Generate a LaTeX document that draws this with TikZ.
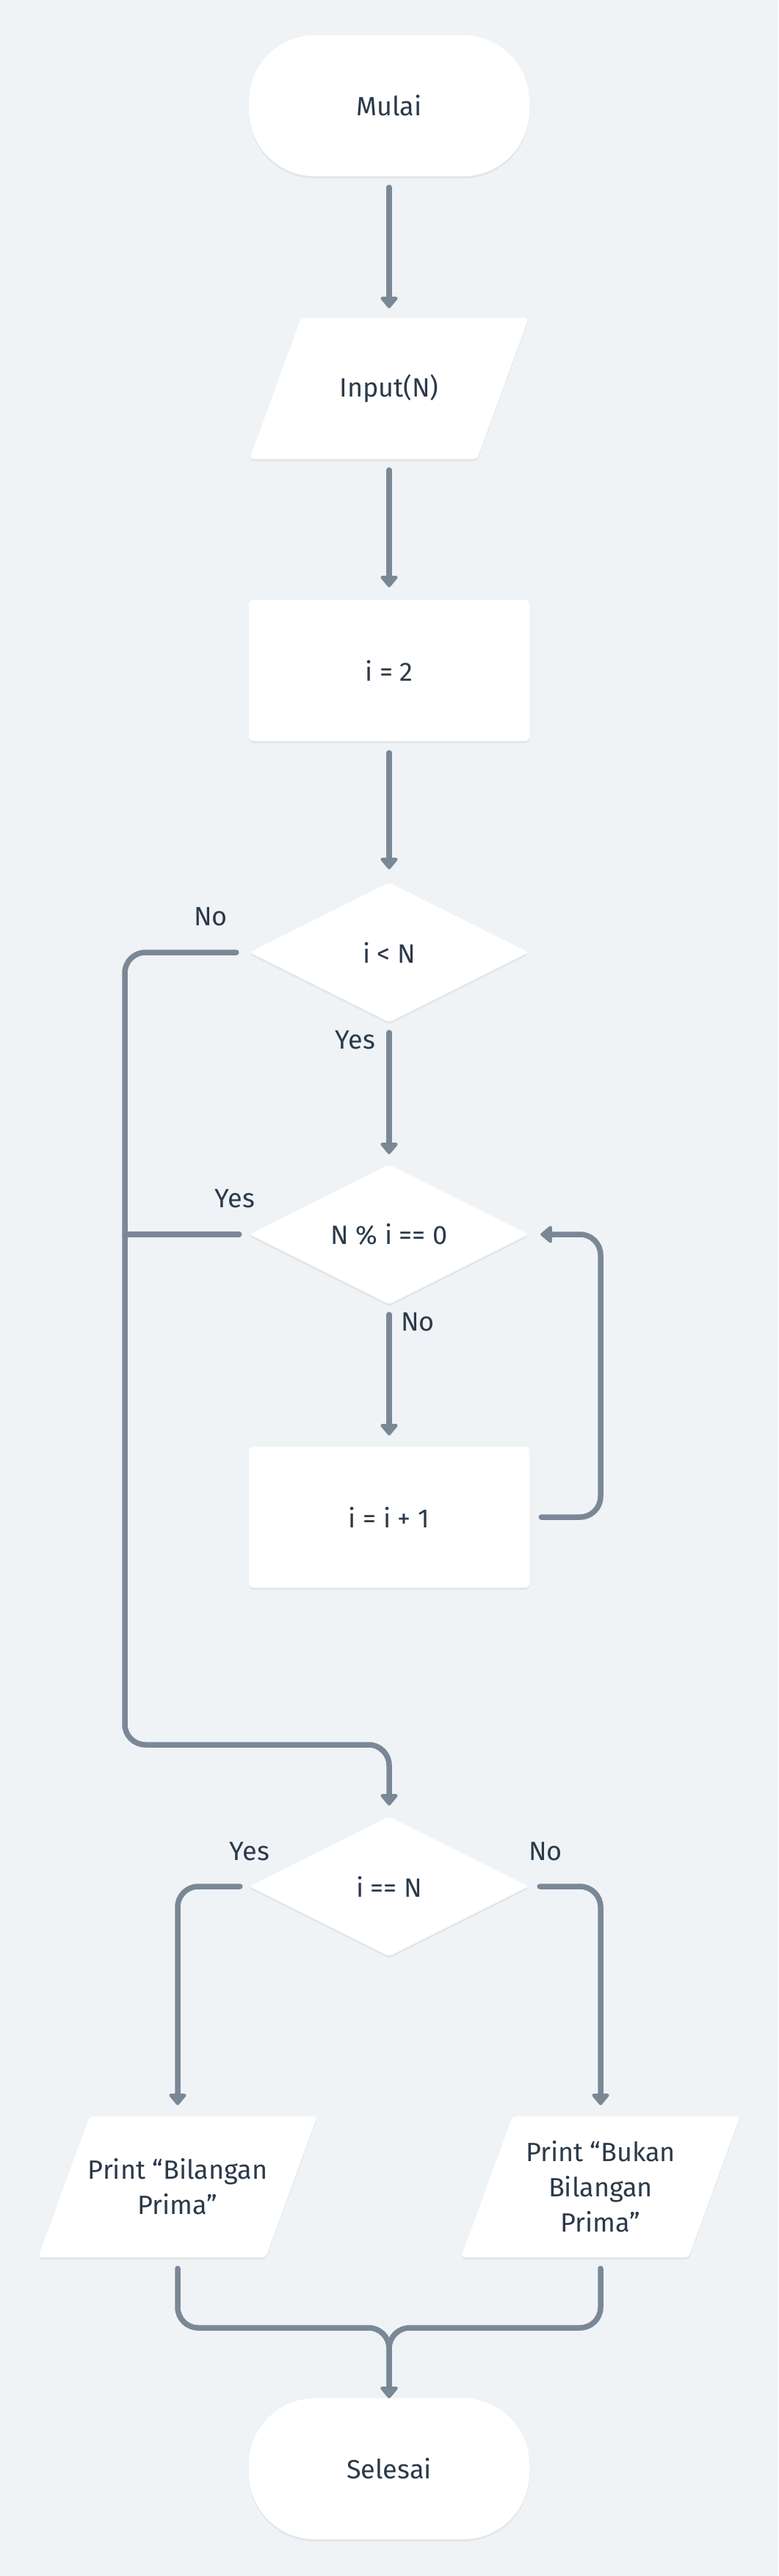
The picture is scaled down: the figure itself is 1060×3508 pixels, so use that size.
\documentclass[tikz,border=0pt]{standalone}
\usepackage{fontspec}
\setmainfont{Fira Sans}
\usetikzlibrary{arrows.meta,shapes.geometric,shadows}
\definecolor{bgc}{HTML}{EFF3F6}
\definecolor{linec}{HTML}{7A8896}
\definecolor{txtc}{HTML}{2B3A4A}
\newcommand\iopara[2]{%
  \fill[white,rounded corners=5pt,softshadow]
    (#1+35-155,#2-96) -- (#1+35+155,#2-96) -- (#1-35+155,#2+96) -- (#1-35-155,#2+96) -- cycle;}
\begin{document}
\begin{tikzpicture}[x=1pt,y=-1pt,
  every node/.style={font=\fontsize{36}{48}\selectfont, text=txtc},
  softshadow/.style={drop shadow={shadow xshift=0pt,shadow yshift=-3pt,opacity=0.05,fill=black}},
  terminal/.style={rectangle, rounded corners=90pt, fill=white, softshadow, minimum width=382pt, minimum height=192pt, inner sep=0pt},
  process/.style={rectangle, rounded corners=6pt, fill=white, softshadow, minimum width=382pt, minimum height=192pt, inner sep=0pt},
  decision/.style={diamond, aspect=2, rounded corners=4pt, fill=white, softshadow, minimum width=380pt, minimum height=190pt, inner sep=0pt},
  iotext/.style={rectangle, minimum width=310pt, minimum height=192pt, inner sep=0pt, align=center},
  lbl/.style={inner sep=0pt},
  conn/.style={draw=linec, line width=7.5pt, line cap=round, line join=round, rounded corners=28pt},
  arr/.style={conn, -{Triangle[width=27pt,length=17pt,round]}}
]
\fill[bgc] (0,0) rectangle (1060,3508);
\useasboundingbox (0,0) rectangle (1060,3508);

% nodes
\node[terminal] (mulai) at (530,144) {Mulai};
\iopara{530}{529}
\node[iotext] (input) at (530,529) {Input(N)};
\node[process] (i2) at (530,913) {i = 2};
\node[decision] (c1) at (530,1297) {i < N};
\node[decision] (c2) at (530,1681) {N \% i == 0};
\node[process] (inc) at (530,2066) {i = i + 1};
\node[decision] (c3) at (530,2569) {i == N};
\iopara{242}{2978}
\node[iotext] (py) at (242,2978) {Print “Bilangan\\Prima”};
\iopara{818}{2978}
\node[iotext] (pn) at (818,2978) {Print “Bukan\\Bilangan\\Prima”};
\node[terminal] (sel) at (530,3362) {Selesai};

% connectors
\draw[arr, shorten <=15pt, shorten >=13pt] (mulai) -- (input);
\draw[arr, shorten <=15pt, shorten >=17pt] (input) -- (i2);
\draw[arr, shorten <=16pt, shorten >=18pt] (i2) -- (c1);
\draw[arr, shorten <=14pt, shorten >=14pt] (c1.south) -- (c2.north);
\draw[arr, shorten <=18pt, shorten >=15pt] (c1.west) -- (170,1297) -- (170,2376) -- (530,2376) -- (c3.north);
\coordinate (jn) at (170,1681);
\draw[conn, shorten <=14pt] (c2.west) -- (jn);
\draw[arr, shorten <=14pt, shorten >=15pt] (c2.south) -- (inc.north);
\draw[arr, shorten <=16pt, shorten >=16pt] (inc.east) -- (818,2066) -- (818,1681) -- (c2.east);
\draw[arr, shorten <=13pt, shorten >=15pt] (c3.west) -- (242,2569) -- (py.north);
\draw[arr, shorten <=15pt, shorten >=15pt] (c3.east) -- (818,2569) -- (pn.north);
\draw[arr, shorten <=15pt, shorten >=0pt] (py.south) -- (242,3170) -- (530,3170) -- (sel.north);
\draw[arr, shorten <=15pt, shorten >=0pt] (pn.south) -- (818,3170) -- (530,3170) -- (sel.north);

% labels
\node[lbl] (l1) at (287,1248) {No};
\node[lbl] (l2) at (484,1416) {Yes};
\node[lbl] (l3) at (320,1632) {Yes};
\node[lbl] (l4) at (569,1800) {No};
\node[lbl] (l5) at (340,2521) {Yes};
\node[lbl] (l6) at (743,2521) {No};
\end{tikzpicture}
\end{document}
